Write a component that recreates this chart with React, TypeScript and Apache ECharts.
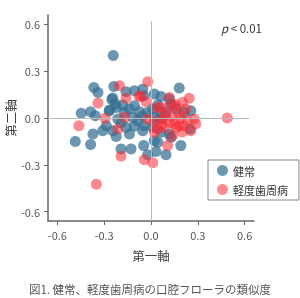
import React, { useEffect, useRef } from "react";
import * as echarts from "echarts";

const tickValues = [-0.6, -0.3, 0, 0.3, 0.6];
const legendNames = ["健常", "軽度歯周病"];
const caption = "図1. 健常、軽度歯周病の口腔フローラの類似度";

const healthy: [number, number][] = [
  [-0.242, 0.4], [-0.366, 0.196], [-0.34, 0.164], [-0.238, 0.202], [-0.245, 0.128],
  [-0.228, 0.089], [-0.16, 0.168], [-0.106, 0.174], [-0.053, 0.185], [-0.047, 0.143],
  [0.021, 0.153], [0.064, 0.138], [0.181, 0.192], [0.117, 0.121], [-0.447, 0.03],
  [-0.387, 0.04], [-0.357, 0.015], [-0.266, 0.051], [-0.223, 0.068], [-0.181, 0.083],
  [-0.17, 0.036], [-0.213, -0.006], [-0.192, -0.032], [-0.138, 0.057], [-0.106, 0.079],
  [-0.074, 0.04], [-0.117, 0.004], [-0.085, -0.017], [-0.053, 0.015], [-0.021, 0.036],
  [0.011, 0.057], [0.043, 0.083], [0.064, 0.036], [0.021, 0.004], [0.053, -0.006],
  [0.096, 0.036], [0.128, 0.089], [0.16, 0.057], [0.213, 0.036], [0.255, 0.047],
  [-0.287, -0.049], [-0.309, -0.081], [-0.245, -0.081], [-0.223, -0.119], [-0.16, -0.06],
  [-0.106, -0.053], [-0.043, -0.049], [-0.053, -0.081], [-0.138, -0.102], [0.011, -0.06],
  [0.064, -0.092], [0.117, -0.102], [0.021, -0.145], [-0.485, -0.151], [-0.387, -0.17],
  [-0.372, -0.102], [-0.192, -0.198], [-0.128, -0.198], [-0.047, -0.177], [-0.021, -0.236],
  [0.032, -0.215], [0.096, -0.236], [0.043, -0.155], [0.128, -0.123], [0.191, -0.177],
  [0.25, -0.07], [-0.251, 0.119], [-0.268, 0.045],
];

const periodontal: [number, number][] = [
  [-0.202, 0.206], [-0.021, 0.232], [-0.34, 0.096], [-0.16, 0.126], [-0.064, 0.138],
  [-0.032, 0.104], [0.117, 0.132], [0.245, 0.126], [0.202, 0.1], [0.06, 0.068],
  [0.106, 0.068], [0.149, 0.074], [0.181, 0.026], [0.223, 0.057], [-0.294, -0.002],
  [-0.17, 0.004], [-0.213, -0.07], [-0.462, -0.049], [-0.021, -0.006], [0.021, -0.028],
  [0.074, -0.006], [0.117, -0.028], [0.149, -0.038], [0.181, -0.049], [0.234, -0.017],
  [0.277, -0.006], [0.287, -0.038], [0.255, -0.081], [0.213, -0.049], [0.085, -0.06],
  [0.043, -0.07], [0.138, -0.113], [0.106, -0.177], [-0.192, -0.245], [-0.043, -0.268],
  [0.011, -0.287], [0.489, 0.0], [0.021, -0.092], [-0.35, -0.425], [0.157, 0.087],
  [0.19, 0.0], [0.13, 0.01], [0.09, 0.02], [0.2, -0.09], [0.07, -0.04], [0.16, -0.06],
  [-0.077, 0.14], [0.04, 0.066],
];

export default function App() {
  const ref = useRef<HTMLDivElement>(null);
  useEffect(() => {
    if (!ref.current) return;
    const chart = echarts.init(ref.current, null, { renderer: "svg" });
    const font = "'Noto Sans CJK JP', 'Noto Sans', sans-serif";
    const axisCommon = {
      type: "value" as const,
      min: -0.66,
      max: 0.66,
      axisLine: { show: true, onZero: false, lineStyle: { color: "#666", width: 1.5 } },
      axisTick: { show: true, length: 4, customValues: tickValues, lineStyle: { color: "#666" } },
      axisLabel: {
        customValues: tickValues,
        formatter: (v: number) => v.toFixed(1),
        color: "#555",
        fontSize: 11,
        fontFamily: font,
      },
      splitLine: { show: false },
      nameLocation: "middle" as const,
      nameMoveOverlap: false,
      nameTextStyle: { color: "#444", fontSize: 12.5, fontFamily: font },
    };
    chart.setOption({
      animation: false,
      grid: { left: 48, right: 46, top: 15, bottom: 77, outerBoundsMode: "none", containLabel: false },
      xAxis: { ...axisCommon, name: "第一軸", nameGap: 28 },
      yAxis: { ...axisCommon, name: "第二軸", nameGap: 31 },
      legend: {
        orient: "vertical",
        left: 208,
        top: 160,
        data: legendNames,
        icon: "circle",
        itemWidth: 11,
        itemHeight: 11,
        itemGap: 8,
        padding: [5, 11, 5, 9],
        borderColor: "#888",
        borderWidth: 1,
        backgroundColor: "#fff",
        textStyle: { color: "#333", fontSize: 11, fontFamily: font },
      },
      series: [
        {
          name: legendNames[0],
          type: "scatter",
          symbolSize: 11,
          data: healthy,
          itemStyle: { color: "#356f92", opacity: 0.72 },
          markLine: {
            silent: true,
            symbol: "none",
            label: { show: false },
            lineStyle: { color: "#bbb", width: 1, type: "solid" },
            data: [
              [{ coord: [-0.66, 0] }, { coord: [0.63, 0] }],
              [{ coord: [0, -0.66] }, { coord: [0, 0.62] }],
            ],
          },
          z: 2,
        },
        {
          name: legendNames[1],
          type: "scatter",
          symbolSize: 11,
          data: periodontal,
          itemStyle: { color: "#f52a35", opacity: 0.55 },
          z: 3,
        },
      ],
      graphic: [
        {
          type: "text",
          left: 221,
          top: 22,
          style: {
            text: "{i|p}{n| < 0.01}",
            fill: "#333",
            fontSize: 11.5,
            fontFamily: font,
            rich: {
              i: { fontStyle: "italic", fontSize: 11.5, fill: "#333", fontFamily: font },
              n: { fontSize: 11.5, fill: "#333", fontFamily: font },
            },
          },
        },
        {
          type: "text",
          left: "center",
          top: 283,
          style: { text: caption, fill: "#555", fontSize: 11.5, fontFamily: font },
        },
      ],
    });
    return () => chart.dispose();
  }, []);
  return (
    <div
      ref={ref}
      style={{ position: "fixed", left: 0, top: 0, width: 300, height: 298 }}
    />
  );
}
